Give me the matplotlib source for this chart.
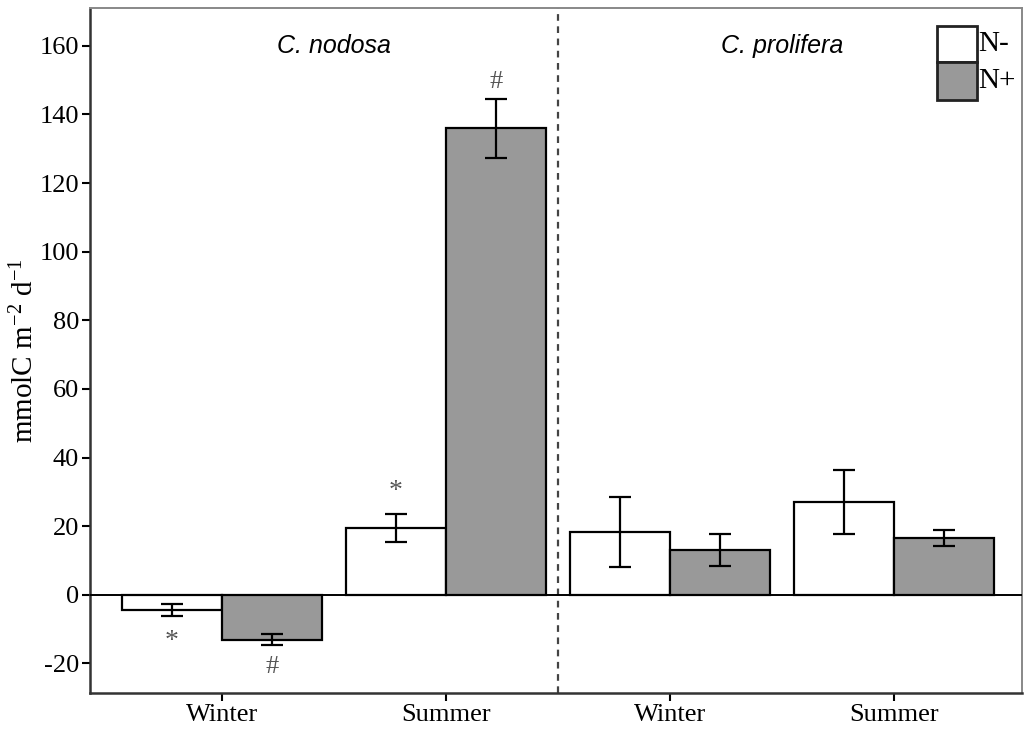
import matplotlib
matplotlib.use("Agg")
import matplotlib.pyplot as plt
from matplotlib.patches import Rectangle
import numpy as np

plt.rcParams['font.family'] = ['Liberation Serif', 'DejaVu Serif']
plt.rcParams['mathtext.fontset'] = 'custom'
plt.rcParams['mathtext.rm'] = 'Liberation Serif'
plt.rcParams['mathtext.it'] = 'Liberation Serif:italic'
plt.rcParams['axes.unicode_minus'] = False

# Net production by species, season and nitrogen treatment
seasons = ["Winter", "Summer", "Winter", "Summer"]
species = ["C. nodosa", "C. prolifera"]
n_minus = [-4.4, 19.5, 18.4, 27.1]
n_minus_err = [1.7, 4.2, 10.2, 9.3]
n_plus = [-13.1, 136.0, 13.1, 16.6]
n_plus_err = [1.6, 8.6, 4.6, 2.3]
# significance marks: (group index, treatment, symbol, y position)
marks = [(0, "N-", "*", -13.5), (0, "N+", "#", -21.0),
         (1, "N-", "*", 30.0), (1, "N+", "#", 149.5)]

fig = plt.figure(figsize=(10.26, 7.29), dpi=100)
ax = fig.add_axes([90/1026, 1 - 693/729, 932/1026, 685/729])

x = np.arange(len(seasons))
w = 0.448
ekw = dict(elinewidth=1.6, capthick=1.6, ecolor='black')
ax.bar(x - w/2, n_minus, w, color='white', edgecolor='black', linewidth=1.6,
       yerr=n_minus_err, capsize=8, error_kw=ekw, zorder=2)
ax.bar(x + w/2, n_plus, w, color='#999999', edgecolor='black', linewidth=1.6,
       yerr=n_plus_err, capsize=8, error_kw=ekw, zorder=2)

for gi, tr, sym, yv in marks:
    xp = gi - w/2 if tr == "N-" else gi + w/2
    ax.text(xp, yv, sym, ha='center', va='center',
            fontsize=19 if sym == "#" else 20, color='#555555')

ax.axhline(0, color='black', linewidth=1.4, zorder=3)
ax.axvline(1.5, color='#444444', linewidth=1.6, linestyle=(0, (3, 2.5)), zorder=1)

ax.set_xlim(-0.589, 3.571)
ax.set_ylim(-28.6, 171.0)
ax.set_xticks(x)
ax.set_xticklabels(seasons, fontsize=19)
ax.set_yticks(np.arange(-20, 161, 20))
ax.tick_params(axis='y', labelsize=19, length=6, width=1.5, direction='out', pad=2)
ax.tick_params(axis='x', length=6, width=1.5, direction='out', pad=2)
ax.set_ylabel(r'mmolC m$^{-2}$ d$^{-1}$', fontsize=21, labelpad=0)

for side in ('left', 'bottom'):
    ax.spines[side].set_color('#333333')
    ax.spines[side].set_linewidth(1.8)
for side in ('top', 'right'):
    ax.spines[side].set_color('#888888')
    ax.spines[side].set_linewidth(1.4)

ax.text(0.5, 160, species[0], ha='center', va='center', fontsize=18,
        style='italic', family=['Liberation Sans', 'DejaVu Sans'])
ax.text(2.5, 160, species[1], ha='center', va='center', fontsize=18,
        style='italic', family=['Liberation Sans', 'DejaVu Sans'])

# legend boxes
t = ax.transAxes
ax.add_patch(Rectangle((0.9088, 0.9212), 0.0429, 0.0525, transform=t,
                       facecolor='white', edgecolor='#222222', linewidth=2, zorder=5))
ax.add_patch(Rectangle((0.9088, 0.8657), 0.0429, 0.0555, transform=t,
                       facecolor='#999999', edgecolor='#222222', linewidth=2, zorder=5))
ax.text(0.9535, 0.947, "N-", transform=t, ha='left', va='center', fontsize=21)
ax.text(0.9535, 0.893, "N+", transform=t, ha='left', va='center', fontsize=21)

fig.savefig("out.png", dpi=100)
